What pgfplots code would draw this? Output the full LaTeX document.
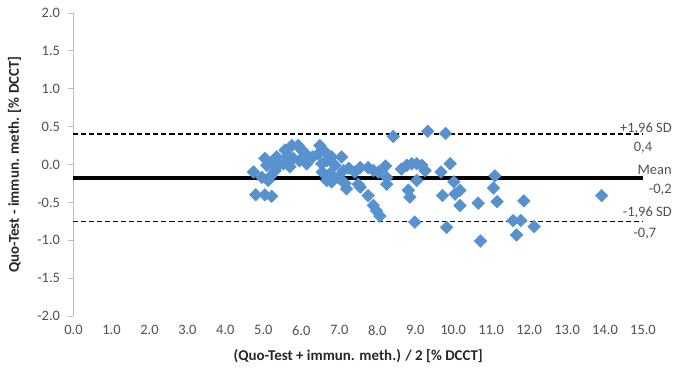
\documentclass[border=0pt]{standalone}
\usepackage{pgfplots}
\pgfplotsset{compat=1.18}
\usepackage{fontspec}
\setmainfont{Carlito}
\definecolor{ptblue}{RGB}{88,146,206}
\definecolor{axgray}{RGB}{190,190,190}
\definecolor{txtgray}{RGB}{80,80,80}
\begin{document}
\begin{tikzpicture}
\path[use as bounding box] (-73.5bp,-60bp) rectangle (614.5bp,316bp);
\begin{axis}[
  at={(0,0)}, anchor=south west,
  scale only axis, width=569.5bp, height=303bp,
  xmin=0, xmax=15, ymin=-2, ymax=2,
  clip=false,
  axis lines*=left,
  x axis line style={draw=none},
  y axis line style={axgray, line width=0.8pt},
  xtick={0,1,...,15},
  ytick={-2,-1.5,...,2},
  xtick style={draw=none},
  ytick style={axgray, line width=0.8pt},
  tick align=outside,
  major tick length=5bp,
  /pgf/number format/.cd, fixed, fixed zerofill, precision=1, assume math mode=true,
  /pgfplots/.cd,
  ticklabel style={font=\fontsize{14.5}{16}\selectfont, text=txtgray},
  yticklabel style={xshift=-5bp},
  xticklabel style={yshift=-1bp},
  ylabel={\textbf{Quo-Test - immun. meth. [\% DCCT]}},
  ylabel style={font=\fontsize{15}{17}\selectfont, text=black!85, at={(rel axis cs:0,0.5)}, anchor=south, yshift=49bp},
  xlabel={\textbf{(Quo-Test + immun. meth.) / 2 [\% DCCT]}},
  xlabel style={font=\fontsize{15}{17}\selectfont, text=black!85, at={(rel axis cs:0.5,0)}, anchor=base, yshift=-44bp},
]
\addplot[only marks, mark=square*, mark size=4.5bp, mark options={rotate=45, fill=ptblue, draw=ptblue}] coordinates {
(4.74,-0.10) (4.80,-0.40) (4.96,-0.17) (5.04,-0.40) (5.22,-0.42) (5.13,-0.21)
(5.04,0.08) (5.09,-0.01) (5.22,0.03) (5.35,0.10) (5.39,-0.01) (5.31,-0.08)
(5.20,-0.15) (5.57,0.19) (5.53,0.01) (5.65,0.12) (5.75,0.25) (5.79,0.08)
(5.70,-0.03) (5.92,0.25) (6.01,0.19) (5.95,0.05)
(6.14,0.01) (6.10,0.15) (6.30,0.10) (6.45,0.14) (6.49,0.25) (6.54,0.01)
(6.60,0.18) (6.67,0.05) (6.80,0.10) (6.89,-0.01) (6.76,-0.12) (6.97,-0.17)
(6.80,-0.23) (6.67,-0.21) (6.55,-0.10) (7.11,-0.08) (7.19,-0.32) (7.06,0.10)
(7.02,-0.19) (7.15,-0.25) (7.41,-0.10) (7.25,-0.05)
(7.55,-0.04) (7.50,-0.26) (7.55,-0.30) (7.76,-0.04) (7.90,-0.08) (8.03,-0.10)
(7.76,-0.41) (7.90,-0.54) (7.98,-0.61) (8.07,-0.68) (8.22,-0.02) (8.25,-0.17)
(8.25,-0.26) (8.42,0.37) (8.64,-0.06) (8.78,-0.01) (8.91,0.01) (9.04,0.01)
(9.17,-0.01) (9.26,-0.08) (9.04,-0.21) (8.82,-0.34) (8.86,-0.43) (8.99,-0.76)
(9.33,0.44)
(9.80,0.41) (9.92,0.01) (9.68,-0.10) (10.02,-0.23) (10.18,-0.34) (10.05,-0.39)
(9.72,-0.41) (10.18,-0.54) (9.83,-0.83) (10.66,-0.51) (10.72,-1.01) (11.10,-0.15)
(11.06,-0.31) (11.16,-0.49) (11.86,-0.48) (11.58,-0.74) (11.78,-0.74) (11.67,-0.93)
(12.13,-0.82) (13.91,-0.41)
};

\addplot[black, line width=3.5bp] coordinates {(0,-0.175) (15,-0.175)};
\addplot[black, line width=1.5bp, dash pattern=on 5bp off 3bp] coordinates {(0,0.405) (15,0.405)};
\addplot[black, line width=1.5bp, dash pattern=on 5bp off 3bp] coordinates {(0,-0.755) (15,-0.755)};

\node[anchor=east, font=\fontsize{14.5}{16}\selectfont, text=txtgray, inner sep=0pt] at (axis cs:15.76,0.48) {+1,96 SD};
\node[anchor=center, font=\fontsize{14.5}{16}\selectfont, text=txtgray, inner sep=0pt] at (axis cs:15.0,0.22) {0,4};
\node[anchor=east, font=\fontsize{14.5}{16}\selectfont, text=txtgray, inner sep=0pt] at (axis cs:15.76,-0.07) {Mean};
\node[anchor=east, font=\fontsize{14.5}{16}\selectfont, text=txtgray, inner sep=0pt] at (axis cs:15.76,-0.33) {-0,2};
\node[anchor=east, font=\fontsize{14.5}{16}\selectfont, text=txtgray, inner sep=0pt] at (axis cs:15.76,-0.64) {-1,96 SD};
\node[anchor=center, font=\fontsize{14.5}{16}\selectfont, text=txtgray, inner sep=0pt] at (axis cs:15.05,-0.91) {-0,7};
\end{axis}
\end{tikzpicture}
\end{document}
